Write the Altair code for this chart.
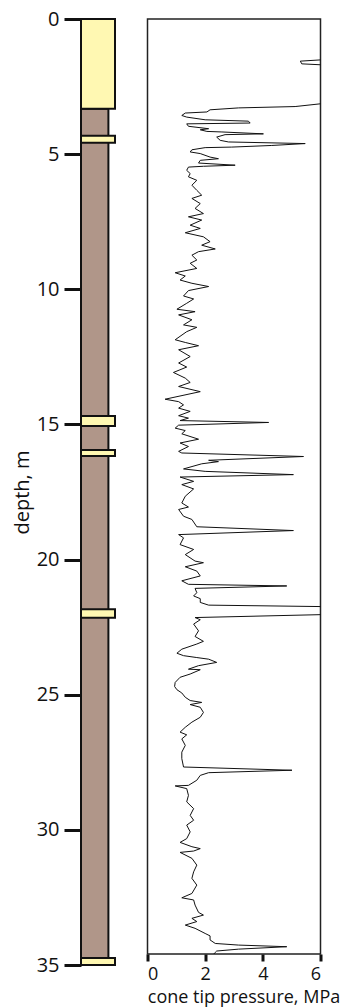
import altair as alt
import pandas as pd

# ---- lithology column (depth in m) ----
litho_type = ["clay", "sand", "sand", "sand", "sand", "sand", "sand"]
layer_top = [3.32, 0.0, 4.32, 14.69, 15.95, 21.84, 34.74]
layer_bottom = [35.0, 3.32, 4.58, 15.06, 16.17, 22.15, 35.0]
grain_width = {"clay": 0.806, "sand": 1.0}

# ---- cone penetration log ----
depth_m = [
    0.00, 1.48, 1.56, 1.66, 1.72, 3.08, 3.24, 3.29, 3.36, 3.44, 3.48, 3.57, 3.63, 3.73, 3.78,
    3.85, 3.88, 3.97, 4.06, 4.10, 4.16, 4.18, 4.25, 4.28, 4.37, 4.49, 4.55, 4.61, 4.68, 4.74,
    4.76, 4.84, 4.92, 4.98, 5.11, 5.17, 5.23, 5.33, 5.41, 5.45, 5.48, 5.60, 5.72, 5.84, 5.97,
    6.15, 6.34, 6.52, 6.64, 6.83, 7.01, 7.20, 7.32, 7.44, 7.63, 7.75, 7.91, 8.06, 8.24, 8.37,
    8.51, 8.61, 8.74, 8.92, 9.04, 9.23, 9.39, 9.51, 9.66, 9.78, 9.90, 10.05, 10.25, 10.36, 10.52,
    10.74, 10.83, 10.95, 11.13, 11.32, 11.41, 11.57, 11.87, 11.97, 12.09, 12.24, 12.49, 12.73, 12.88, 13.08,
    13.29, 13.45, 13.60, 13.79, 14.07, 14.16, 14.28, 14.40, 14.52, 14.68, 14.77, 14.86, 14.93, 15.03, 15.14,
    15.23, 15.35, 15.55, 15.69, 15.82, 16.00, 16.06, 16.19, 16.33, 16.38, 16.46, 16.65, 16.74, 16.86, 16.95,
    17.11, 17.23, 17.39, 17.66, 17.91, 18.06, 18.15, 18.40, 18.52, 18.79, 18.93, 19.08, 19.20, 19.45, 19.63,
    19.82, 20.06, 20.12, 20.27, 20.43, 20.61, 20.79, 20.92, 20.98, 21.07, 21.23, 21.35, 21.45, 21.59, 21.69,
    21.75, 22.03, 22.15, 22.23, 22.39, 22.64, 22.85, 23.03, 23.13, 23.32, 23.47, 23.56, 23.63, 23.69, 23.81,
    23.93, 24.06, 24.08, 24.24, 24.36, 24.55, 24.70, 24.82, 24.94, 25.10, 25.22, 25.29, 25.37, 25.47, 25.66,
    25.84, 26.02, 26.21, 26.39, 26.49, 26.64, 26.88, 27.13, 27.37, 27.68, 27.80, 27.89, 27.99, 28.17, 28.36,
    28.38, 28.48, 28.73, 28.97, 29.22, 29.47, 29.65, 29.83, 30.08, 30.33, 30.47, 30.63, 30.70, 30.79, 30.84,
    31.06, 31.31, 31.56, 31.80, 32.05, 32.36, 32.52, 32.60, 32.79, 33.06, 33.16, 33.28, 33.40, 33.53, 33.65,
    33.84, 33.93, 34.08, 34.21, 34.27, 34.33, 34.42, 34.49, 34.54, 34.60,
]
pressure_mpa = [
    6.5, 6.5, 5.30, 5.35, 6.5, 6.5, 5.12, 3.16, 2.17, 2.06, 1.31, 1.19, 1.36, 2.00, 3.50,
    3.56, 1.36, 1.42, 2.12, 1.83, 2.06, 2.58, 4.02, 2.69, 2.40, 2.52, 2.81, 5.47, 4.31, 2.92,
    2.00, 1.54, 1.48, 1.83, 2.17, 2.46, 1.83, 1.77, 3.04, 1.94, 1.42, 1.36, 1.48, 1.42, 1.71,
    1.54, 1.71, 1.88, 1.54, 1.83, 1.65, 1.94, 1.42, 1.88, 1.48, 1.83, 1.31, 1.94, 2.17, 1.88,
    2.35, 1.77, 1.54, 1.71, 1.48, 1.71, 0.96, 1.31, 1.13, 1.54, 2.12, 1.42, 1.25, 1.60, 1.36,
    1.02, 1.65, 1.08, 1.54, 1.25, 1.71, 1.36, 0.96, 1.31, 1.77, 1.08, 1.48, 1.08, 1.36, 0.90,
    1.31, 1.48, 1.08, 1.83, 0.61, 1.08, 1.25, 1.08, 1.48, 1.08, 1.42, 1.13, 4.20, 1.08, 0.96,
    1.31, 1.19, 1.77, 1.13, 1.42, 1.08, 1.19, 5.41, 2.12, 2.46, 1.88, 1.25, 2.00, 5.06, 1.13,
    1.60, 1.19, 1.60, 1.31, 1.19, 1.42, 1.08, 1.25, 1.54, 1.71, 5.06, 1.08, 1.25, 1.13, 1.60,
    1.31, 1.65, 1.94, 1.31, 1.71, 1.83, 1.19, 1.42, 4.83, 1.65, 1.71, 1.60, 1.83, 1.83, 2.12,
    6.5, 6.5, 1.65, 1.83, 1.60, 1.77, 1.65, 1.94, 1.71, 1.19, 1.02, 1.25, 1.71, 2.12, 2.40,
    1.77, 1.42, 1.83, 1.48, 1.13, 0.96, 0.94, 1.02, 1.19, 1.31, 1.48, 1.88, 1.48, 1.83, 1.94,
    1.83, 1.54, 1.31, 1.13, 1.36, 1.19, 1.31, 1.19, 1.19, 1.25, 5.01, 2.12, 1.83, 1.71, 1.42,
    0.96, 1.36, 1.42, 1.36, 1.60, 1.48, 1.60, 1.36, 1.48, 1.36, 1.13, 1.54, 1.83, 1.60, 1.13,
    1.54, 1.71, 1.60, 1.54, 1.71, 1.54, 1.19, 1.60, 1.65, 1.77, 1.94, 1.54, 1.71, 1.31, 1.65,
    2.00, 2.17, 2.17, 2.35, 3.16, 4.83, 3.16, 2.40, 2.35, 2.30,
]

depth_ticks = [0, 5, 10, 15, 20, 25, 30, 35]
pressure_ticks = [0, 2, 4, 6]

FONT = "Open Sans"
SAND = "#FFF8B2"
CLAY = "#B09689"

litho = pd.DataFrame({
    "lith": litho_type,
    "top": layer_top,
    "bottom": layer_bottom,
    "left": [0.0] * len(litho_type),
    "right": [grain_width[t] for t in litho_type],
})

cpt = pd.DataFrame({
    "seq": list(range(len(depth_m))),
    "depth": depth_m,
    "pressure": pressure_mpa,
})

column = alt.Chart(litho).mark_rect(stroke="#111111", strokeWidth=2).encode(
    x=alt.X("left:Q", scale=alt.Scale(domain=[0, 1]), axis=None),
    x2="right:Q",
    y=alt.Y(
        "top:Q",
        scale=alt.Scale(domain=[0, 35], reverse=True, nice=False, zero=False),
        axis=alt.Axis(
            values=depth_ticks, title="depth, m", domain=False, grid=False,
            tickSize=17, tickWidth=3, tickColor="#111111",
            labelFont=FONT, labelFontSize=20, labelColor="#111111", labelPadding=5,
            titleFont=FONT, titleFontSize=20, titleFontWeight="normal",
            titleColor="#111111", titlePadding=4,
        ),
    ),
    y2="bottom:Q",
    color=alt.Color("lith:N", scale=alt.Scale(domain=["sand", "clay"], range=[SAND, CLAY]), legend=None),
).properties(width=34, height=946, view=alt.ViewBackground(stroke="transparent"))

log = alt.Chart(cpt).mark_line(color="#111111", strokeWidth=1, clip=True).encode(
    x=alt.X(
        "pressure:Q",
        scale=alt.Scale(domain=[0, 6], nice=False),
        axis=alt.Axis(
            values=pressure_ticks, title="cone tip pressure, MPa", domain=False, grid=False,
            tickSize=7, tickWidth=3, tickColor="#111111",
            labelFont=FONT, labelFontSize=18, labelColor="#111111", labelPadding=4,
            titleFont=FONT, titleFontSize=18, titleFontWeight="normal", titleColor="#111111",
            titlePadding=5, titleX=96, titleAlign="center",
        ),
    ),
    y=alt.Y("depth:Q", scale=alt.Scale(domain=[0, 34.6], reverse=True, nice=False, zero=False), axis=None),
    order=alt.Order("seq:Q"),
).properties(width=173, height=935, view=alt.ViewBackground(stroke="#222222", strokeWidth=1.5))

chart = alt.hconcat(column, log, spacing=27.5).properties(
    padding={"left": 3, "top": 0, "right": 0, "bottom": 0}
).configure_view(stroke="transparent").configure(background="white")

chart.save("out.html", embed_options={"renderer": "svg", "actions": False})
